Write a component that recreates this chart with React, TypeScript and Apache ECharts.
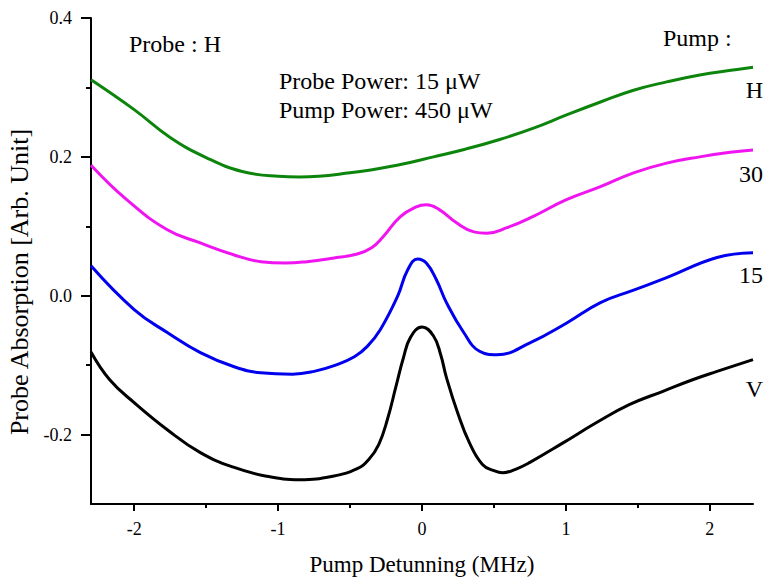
import React, { useEffect, useRef } from "react";
import * as echarts from "echarts";

// Pump polarisation H
const gX = [-2.3, -2.0, -1.75, -1.5, -1.25, -1.0, -0.85, -0.5, -0.15, 0.08, 0.3, 0.54, 0.77, 1.0, 1.24, 1.47, 1.7, 1.93, 2.16, 2.3];
const gY = [0.311, 0.268, 0.228, 0.199, 0.179, 0.172, 0.171, 0.177, 0.189, 0.2, 0.211, 0.225, 0.241, 0.26, 0.279, 0.296, 0.308, 0.318, 0.325, 0.329];

// Pump 30
const mX = [-2.3, -2.05, -1.77, -1.54, -1.31, -1.12, -0.95, -0.8, -0.62, -0.45, -0.35, -0.27, -0.15, -0.04, 0.03, 0.12, 0.24, 0.36, 0.45, 0.59, 0.77, 1.0, 1.24, 1.47, 1.7, 1.93, 2.16, 2.3];
const mY = [0.188, 0.138, 0.095, 0.076, 0.059, 0.049, 0.047, 0.049, 0.054, 0.06, 0.069, 0.085, 0.114, 0.128, 0.131, 0.124, 0.105, 0.092, 0.09, 0.098, 0.114, 0.138, 0.157, 0.177, 0.191, 0.2, 0.207, 0.21];

// Pump 15
const bX = [-2.3, -2.0, -1.77, -1.54, -1.31, -1.12, -0.9, -0.75, -0.6, -0.47, -0.38, -0.29, -0.17, -0.1, -0.03, 0.03, 0.1, 0.17, 0.29, 0.4, 0.52, 0.75, 1.0, 1.24, 1.47, 1.7, 2.05, 2.3];
const bY = [0.043, -0.02, -0.053, -0.082, -0.102, -0.111, -0.113, -0.109, -0.1, -0.088, -0.073, -0.049, -0.001, 0.037, 0.053, 0.047, 0.023, -0.01, -0.053, -0.08, -0.085, -0.068, -0.04, -0.01, 0.008, 0.026, 0.055, 0.062];

// Pump polarisation V
const kX = [-2.3, -2.17, -2.0, -1.77, -1.54, -1.31, -1.08, -0.85, -0.62, -0.45, -0.37, -0.3, -0.24, -0.18, -0.13, -0.08, 0, 0.08, 0.13, 0.17, 0.25, 0.33, 0.42, 0.5, 0.56, 0.65, 0.75, 0.98, 1.21, 1.44, 1.67, 1.88, 2.05, 2.3];
const kY = [-0.081, -0.121, -0.154, -0.193, -0.226, -0.247, -0.26, -0.265, -0.26, -0.249, -0.236, -0.214, -0.178, -0.13, -0.09, -0.06, -0.045, -0.058, -0.085, -0.118, -0.17, -0.212, -0.243, -0.252, -0.255, -0.25, -0.24, -0.212, -0.183, -0.157, -0.138, -0.121, -0.109, -0.092];

const xTicks = [-2, -1, 0, 1, 2];
const yTicks = [-0.2, 0, 0.2, 0.4];

const seriesDefs = [
  { name: "H", xs: gX, ys: gY, color: "#0d850d" },
  { name: "30", xs: mX, ys: mY, color: "#f014f0" },
  { name: "15", xs: bX, ys: bY, color: "#0000ee" },
  { name: "V", xs: kX, ys: kY, color: "#000000" },
];

const FONT = "'Liberation Serif', 'Times New Roman', serif";

export default function App() {
  const ref = useRef<HTMLDivElement>(null);
  useEffect(() => {
    const chart = echarts.init(ref.current!, null, { renderer: "svg" });
    const txt = (text: string, x: number, y: number, align: string, size = 24, extra: any = {}) => ({
      type: "text",
      x,
      y,
      ...extra,
      style: { text, fill: "#000", font: `${size}px ${FONT}`, align, verticalAlign: "middle" },
    });
    chart.setOption({
      animation: false,
      backgroundColor: "#ffffff",
      grid: { left: 91, right: 13, top: 18, bottom: 76 },
      xAxis: {
        type: "value",
        min: -2.3,
        max: 2.3,
        splitNumber: 5,
        axisLine: { onZero: false, lineStyle: { color: "#000", width: 2 } },
        axisTick: { show: true, inside: false, length: 7, lineStyle: { color: "#000", width: 2 }, customValues: xTicks },
        minorTick: { show: true, splitNumber: 2, length: 4, lineStyle: { color: "#000", width: 2 } },
        axisLabel: {
          margin: 16,
          fontSize: 18,
          fontFamily: FONT,
          color: "#000",
          customValues: xTicks,
          formatter: (v: number) => String(Math.round(v)),
        },
        splitLine: { show: false },
      },
      yAxis: {
        type: "value",
        min: -0.3,
        max: 0.4,
        splitNumber: 4,
        axisLine: { onZero: false, lineStyle: { color: "#000", width: 2 } },
        axisTick: { show: true, inside: false, length: 10, lineStyle: { color: "#000", width: 2 }, customValues: yTicks },
        minorTick: { show: true, splitNumber: 2, length: 5, lineStyle: { color: "#000", width: 2 } },
        axisLabel: {
          margin: 19,
          fontSize: 18,
          fontFamily: FONT,
          color: "#000",
          customValues: yTicks,
          formatter: (v: number) => (Math.abs(v) < 1e-9 ? "0.0" : v.toFixed(1)),
        },
        splitLine: { show: false },
      },
      series: seriesDefs.map((s) => ({
        type: "line",
        name: s.name,
        data: s.xs.map((x, i) => [x, s.ys[i]]),
        showSymbol: false,
        smooth: 0.45,
        lineStyle: { color: s.color, width: 3 },
        itemStyle: { color: s.color },
      })),
      graphic: [
        txt("Probe : H", 129, 44, "left"),
        txt("Probe Power: 15 \u03bcW", 279, 81, "left"),
        txt("Pump Power: 450 \u03bcW", 279, 110, "left"),
        txt("Pump :", 663, 38, "left"),
        txt("H", 763, 90, "right"),
        txt("30", 763, 174, "right"),
        txt("15", 763, 275, "right"),
        txt("V", 763, 389, "right"),
        txt("Pump Detunning (MHz)", 422, 564, "center", 23),
        txt("Probe Absorption [Arb. Unit]", 19, 282, "center", 26, { rotation: Math.PI / 2 }),
      ],
    });
    return () => chart.dispose();
  }, []);
  return (
    <div
      ref={ref}
      style={{ position: "fixed", left: 0, top: 0, width: 766, height: 580, background: "#fff" }}
    />
  );
}
